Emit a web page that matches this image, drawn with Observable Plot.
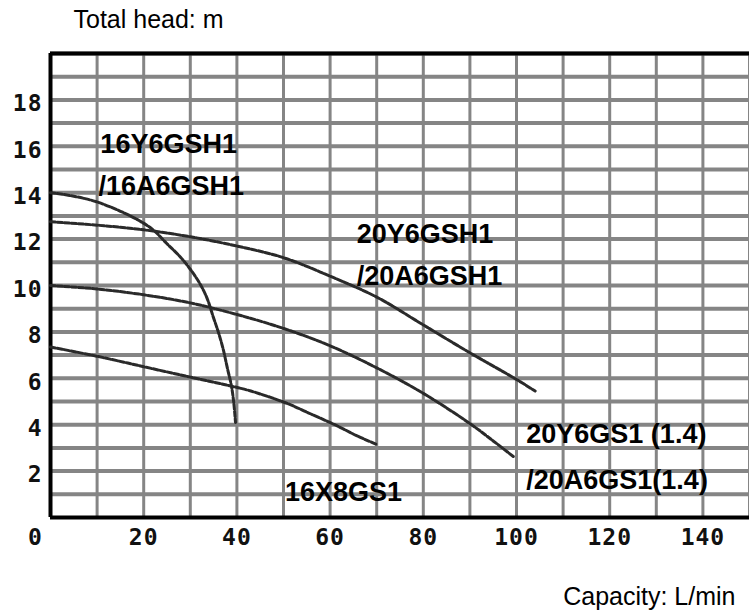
<!DOCTYPE html>
<html><head><meta charset="utf-8">
<script src="https://cdn.jsdelivr.net/npm/d3@7"></script>
<script src="https://cdn.jsdelivr.net/npm/@observablehq/plot@0.6"></script>
<style>body{margin:0;background:#fff}</style>
</head><body><div id="chart"></div>
<script>
// Curve data (capacity L/min, total head m)
const a_q = [0, 5, 10, 15, 19, 22, 25, 28, 30, 32, 33.5, 35, 36, 37, 38, 38.8, 39.3, 39.7];
const a_h = [14.0, 13.85, 13.6, 13.2, 12.8, 12.4, 11.8, 11.2, 10.7, 10.1, 9.5, 8.6, 8.0, 7.3, 6.4, 5.7, 5.0, 4.1];
const b_q = [0, 10, 20, 30, 40, 50, 60, 70, 80, 90, 100, 104];
const b_h = [12.75, 12.6, 12.4, 12.1, 11.7, 11.2, 10.4, 9.5, 8.3, 7.1, 5.95, 5.45];
const c_q = [0, 10, 20, 30, 40, 50, 60, 70, 80, 90, 95, 99.5];
const c_h = [10.0, 9.85, 9.6, 9.25, 8.75, 8.15, 7.4, 6.45, 5.35, 4.05, 3.3, 2.6];
const d_q = [0, 10, 20, 30, 38, 43, 51, 56, 61, 66, 70];
const d_h = [7.35, 6.95, 6.5, 6.05, 5.7, 5.45, 4.9, 4.45, 4.0, 3.5, 3.15];
const curveNames = ["16Y6GSH1", "20Y6GSH1", "20Y6GS1", "16X8GS1"];

// Curve labels
const labelText = ["16Y6GSH1", "/16A6GSH1", "20Y6GSH1", "/20A6GSH1", "20Y6GS1 (1.4)", "/20A6GS1(1.4)", "16X8GS1"];
const labelQ = [10.7, 10.3, 65.7, 65.7, 102.1, 102.1, 50.3];
const labelH = [15.73, 13.88, 11.85, 10.04, 3.19, 1.25, 0.69];

// Tick labels
const xTicks = [0, 20, 40, 60, 80, 100, 120, 140];
const yTicks = [2, 4, 6, 8, 10, 12, 14, 16, 18];
const yTitle = "Total head: m";
const xTitle = "Capacity: L/min";

const curves = [[a_q, a_h], [b_q, b_h], [c_q, c_h], [d_q, d_h]];
const rows = curves.flatMap(([qs, hs], k) => qs.map((q, i) => ({name: curveNames[k], q, h: hs[i]})));
const labels = labelText.map((t, i) => ({t, q: labelQ[i], h: labelH[i]}));

const tickFont = {fontFamily: "DejaVu Sans Mono", fontWeight: "bold", fontSize: 23, fill: "#111"};

const chart = Plot.plot({
  width: 749, height: 614,
  marginLeft: 50, marginRight: 0, marginTop: 53, marginBottom: 97,
  x: {domain: [0, 150], label: null},
  y: {domain: [0, 20], label: null},
  style: {fontFamily: "Liberation Sans, Arial, sans-serif", background: "#fff", overflow: "visible"},
  marks: [
    Plot.gridY(d3.range(1, 21), {stroke: "#858585", strokeOpacity: 1, strokeWidth: 4}),
    Plot.gridX(d3.range(10, 151, 10), {stroke: "#858585", strokeOpacity: 1, strokeWidth: 3}),
    Plot.ruleX([0], {stroke: "#000", strokeWidth: 4}),
    Plot.ruleY([0, 20], {stroke: "#000", strokeWidth: 4}),
    Plot.line(rows, {x: "q", y: "h", z: "name", stroke: "#2a2a2a", strokeWidth: 3, strokeDasharray: "5 2", curve: "catmull-rom"}),
    Plot.axisY(yTicks, {tickSize: 0, tickPadding: 8, dy: 4, label: null, ...tickFont}),
    Plot.axisX([xTicks[0]], {tickSize: 0, tickPadding: 11, dx: -15, label: null, ...tickFont}),
    Plot.axisX(xTicks.slice(1), {tickSize: 0, tickPadding: 11, label: null, ...tickFont}),
    Plot.text(labels, {x: "q", y: "h", text: "t", textAnchor: "start", lineAnchor: "bottom",
      fontSize: 27, fontWeight: "bold", fill: "#000", fontFamily: "Liberation Sans, Arial, sans-serif"}),
    Plot.text([yTitle], {text: d => d, frameAnchor: "top-left", dx: 23, dy: -26, textAnchor: "start", lineAnchor: "bottom",
      fontSize: 25, fill: "#000"}),
    Plot.text([xTitle], {text: d => d, frameAnchor: "bottom-right", dx: -14, dy: 87, textAnchor: "end", lineAnchor: "bottom",
      fontSize: 25, fill: "#000"})
  ]
});
d3.select(chart).selectAll('[aria-label$="tick label"] text').attr("letter-spacing", "1px");
document.getElementById("chart").appendChild(chart);
</script>
</body></html>
